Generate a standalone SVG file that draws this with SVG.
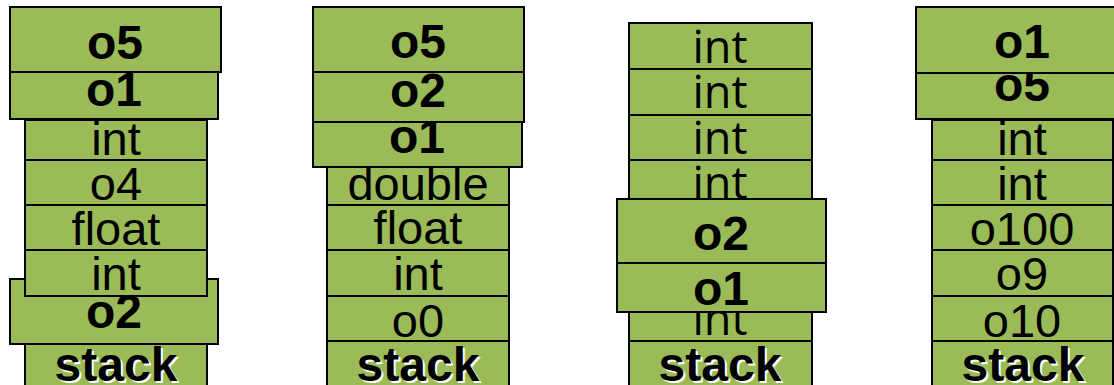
<svg xmlns="http://www.w3.org/2000/svg" width="1114" height="385" viewBox="0 0 1114 385">
  <style>
    .cell { fill: #9BBB59; stroke: #000; stroke-width: 2; }
    .t { font-family: "Liberation Sans", Arial, sans-serif; font-size: 47px; text-anchor: middle; fill: #000; }
    .b { font-family: "Liberation Sans", Arial, sans-serif; font-size: 48px; font-weight: bold; text-anchor: middle; fill: #000; }
    .s { font-family: "Liberation Sans", Arial, sans-serif; font-size: 48px; font-weight: bold; text-anchor: middle; fill: #000; }
    .sh { fill: #fff; }
    .c { font-family: "Open Sans", "Noto Sans", sans-serif; font-size: 45px; text-anchor: middle; fill: #000; }
  </style>

  <!-- Stack 1 -->
  <g id="s1-stack"><rect class="cell" x="25" y="344" width="182" height="52"/>
    <text class="s sh" x="118" y="383">stack</text><text class="s" x="116" y="381">stack</text></g>
  <g id="s1-o2"><rect class="cell" x="10" y="279" width="208" height="65"/><text class="b" x="114" y="328">o2</text></g>
  <g id="s1-int2"><rect class="cell" x="25" y="250" width="182" height="46"/><text class="t" x="116" y="290">int</text></g>
  <g id="s1-float"><rect class="cell" x="25" y="205" width="182" height="45"/><text class="t" x="116" y="245">float</text></g>
  <g id="s1-o4"><rect class="cell" x="25" y="160" width="182" height="45"/><text class="t" x="116" y="200">o4</text></g>
  <g id="s1-int1"><rect class="cell" x="25" y="120" width="182" height="40"/><text class="t" x="116" y="155">int</text></g>
  <g id="s1-o1"><rect class="cell" x="10" y="71" width="208" height="48"/><text class="b" x="114" y="106">o1</text></g>
  <g id="s1-o5"><rect class="cell" x="10" y="7" width="211" height="65"/><text class="b" x="115" y="59">o5</text></g>

  <!-- Stack 2 -->
  <g id="s2-stack"><rect class="cell" x="327" y="341" width="182" height="55"/>
    <text class="s sh" x="420" y="383">stack</text><text class="s" x="418" y="381">stack</text></g>
  <g id="s2-o0"><rect class="cell" x="327" y="296" width="182" height="45"/><text class="t" x="418" y="337">o0</text></g>
  <g id="s2-int"><rect class="cell" x="327" y="250" width="182" height="46"/><text class="t" x="418" y="290">int</text></g>
  <g id="s2-float"><rect class="cell" x="327" y="205" width="182" height="45"/><text class="t" x="418" y="244">float</text></g>
  <g id="s2-double"><rect class="cell" x="327" y="167" width="182" height="38"/><text class="t" x="418" y="200">double</text></g>
  <g id="s2-o1"><rect class="cell" x="313" y="122" width="209" height="45"/><text class="b" x="417" y="153">o1</text></g>
  <g id="s2-o2"><rect class="cell" x="313" y="72" width="211" height="50"/><text class="b" x="418" y="107">o2</text></g>
  <g id="s2-o5"><rect class="cell" x="313" y="7" width="211" height="65"/><text class="b" x="418" y="58">o5</text></g>

  <!-- Stack 3 -->
  <g id="s3-stack"><rect class="cell" x="629" y="341" width="183" height="55"/>
    <text class="s sh" x="722" y="383">stack</text><text class="s" x="720" y="381">stack</text></g>
  <g id="s3-int5"><rect class="cell" x="629" y="296" width="183" height="45"/><text class="c" x="720" y="335">int</text></g>
  <g id="s3-int4"><rect class="cell" x="629" y="160" width="183" height="45"/><text class="c" x="720" y="199">int</text></g>
  <g id="s3-int3"><rect class="cell" x="629" y="115" width="183" height="45"/><text class="c" x="720" y="154">int</text></g>
  <g id="s3-int2"><rect class="cell" x="629" y="69" width="183" height="46"/><text class="c" x="720" y="108">int</text></g>
  <g id="s3-int1"><rect class="cell" x="629" y="23" width="183" height="46"/><text class="c" x="720" y="63">int</text></g>
  <g id="s3-o2"><rect class="cell" x="617" y="199" width="209" height="64"/><text class="b" x="721" y="250">o2</text></g>
  <g id="s3-o1"><rect class="cell" x="617" y="263" width="209" height="49"/><text class="b" x="721" y="305">o1</text></g>

  <!-- Stack 4 -->
  <g id="s4-stack"><rect class="cell" x="932" y="341" width="181" height="55"/>
    <text class="s sh" x="1025" y="383">stack</text><text class="s" x="1023" y="381">stack</text></g>
  <g id="s4-o10"><rect class="cell" x="932" y="296" width="181" height="45"/><text class="t" x="1022" y="337">o10</text></g>
  <g id="s4-o9"><rect class="cell" x="932" y="250" width="181" height="46"/><text class="t" x="1022" y="290">o9</text></g>
  <g id="s4-o100"><rect class="cell" x="932" y="205" width="181" height="45"/><text class="t" x="1022" y="245">o100</text></g>
  <g id="s4-int2"><rect class="cell" x="932" y="160" width="181" height="45"/><text class="t" x="1022" y="200">int</text></g>
  <g id="s4-int1"><rect class="cell" x="932" y="120" width="181" height="40"/><text class="t" x="1022" y="155">int</text></g>
  <g id="s4-o5"><rect class="cell" x="916" y="73" width="212" height="46"/><text class="b" x="1022" y="101">o5</text></g>
  <g id="s4-o1"><rect class="cell" x="916" y="7" width="212" height="66"/><text class="b" x="1022" y="58">o1</text></g>

  <!-- no connectors in this figure -->
  <g id="connectors"/>
</svg>
